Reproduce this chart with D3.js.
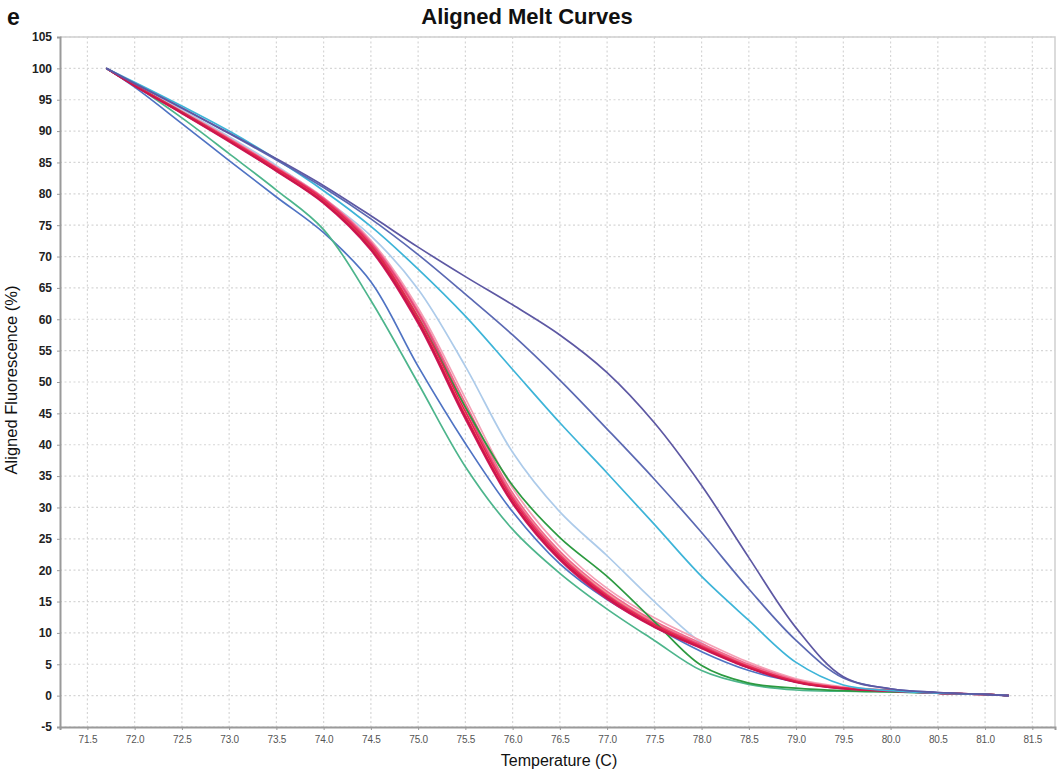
<!DOCTYPE html>
<html>
<head>
<meta charset="utf-8">
<script src="https://cdn.jsdelivr.net/npm/d3@7"></script>
<style>
  html, body { margin: 0; padding: 0; background: #fff; }
  svg { display: block; font-family: Arial, "Liberation Sans", sans-serif; }
</style>
</head>
<body>
<svg id="chart" width="1057" height="773"></svg>
<script>
// Temperatures (°C) at which every curve is sampled
const temps = [71.7, 72.0, 72.5, 73.0, 73.5, 74.0, 74.5, 75.0, 75.5, 76.0, 76.5, 77.0, 77.5, 78.0, 78.5, 79.0, 79.5, 80.0, 80.5, 81.0, 81.25];

// Aligned fluorescence (%) per sample well
const purpleA   = [100, 97.6, 93.7, 89.7, 85.6, 81.3, 76.5, 71.5, 66.8, 62.3, 57.5, 51.5, 43.5, 33.5, 22.0, 10.8, 3.0, 1.1, 0.5, 0.2, 0];
const purpleB   = [100, 97.6, 93.7, 89.6, 85.4, 81.0, 76.0, 70.3, 64.0, 57.5, 50.3, 42.5, 34.5, 26.0, 17.0, 8.8, 2.8, 1.1, 0.5, 0.2, 0];
const cyan      = [100, 97.8, 94.0, 90.0, 85.5, 80.5, 74.8, 68.0, 60.5, 52.0, 43.5, 35.5, 27.3, 19.0, 12.0, 5.3, 1.7, 0.8, 0.4, 0.2, 0];
const paleBlue  = [100, 97.5, 93.4, 89.1, 84.5, 79.3, 73.3, 64.8, 52.5, 38.8, 29.3, 22.3, 15.0, 8.4, 4.5, 2.4, 1.3, 0.8, 0.4, 0.2, 0];
const blue      = [100, 97.0, 91.2, 85.3, 79.5, 73.8, 66.0, 52.5, 40.2, 29.3, 21.0, 15.3, 11.0, 7.0, 4.0, 2.2, 1.2, 0.8, 0.4, 0.2, 0];
const tealGreen = [100, 97.3, 92.1, 86.4, 80.6, 74.3, 63.0, 49.8, 36.5, 26.5, 19.5, 13.8, 8.8, 4.0, 1.8, 0.9, 0.7, 0.6, 0.4, 0.2, 0];
const darkGreen = [100, 97.3, 93.0, 88.5, 83.7, 78.7, 71.5, 60.3, 46.0, 33.5, 25.2, 19.0, 11.8, 4.8, 2.0, 1.2, 0.8, 0.6, 0.4, 0.2, 0];
const red1 = [100, 97.3, 93.0, 88.6, 84.0, 79.0, 71.8, 60.3, 45.3, 31.3, 22.2, 15.9, 11.3, 7.8, 4.6, 2.3, 1.2, 0.8, 0.4, 0.2, 0];
const red2 = [100, 97.2, 92.8, 88.3, 83.6, 78.5, 71.0, 59.3, 44.1, 30.6, 21.6, 15.4, 10.9, 7.5, 4.4, 2.2, 1.1, 0.7, 0.4, 0.2, 0];
const red3 = [100, 97.4, 93.1, 88.8, 84.2, 79.3, 72.3, 61.3, 46.6, 32.3, 23.0, 16.6, 11.9, 8.3, 5.0, 2.5, 1.3, 0.8, 0.4, 0.2, 0];
const red4 = [100, 97.3, 92.9, 88.5, 83.8, 78.7, 71.4, 59.8, 44.7, 30.9, 21.9, 15.7, 11.1, 7.7, 4.5, 2.2, 1.2, 0.8, 0.4, 0.2, 0];
const red5 = [100, 97.4, 93.2, 88.9, 84.3, 79.4, 72.6, 61.8, 47.4, 33.1, 23.7, 17.1, 12.4, 8.7, 5.3, 2.7, 1.4, 0.9, 0.4, 0.2, 0];
const red6 = [100, 97.3, 93.0, 88.7, 84.1, 79.1, 72.0, 60.8, 46.1, 31.9, 22.7, 16.3, 11.7, 8.1, 4.8, 2.4, 1.2, 0.8, 0.4, 0.2, 0];
const red7 = [100, 97.3, 93.1, 88.7, 84.1, 79.2, 72.1, 61.0, 45.9, 31.7, 22.5, 16.1, 11.5, 8.0, 4.7, 2.3, 1.2, 0.8, 0.4, 0.2, 0];
const red8 = [100, 97.2, 92.9, 88.4, 83.7, 78.6, 71.2, 59.6, 44.4, 30.8, 21.8, 15.6, 11.0, 7.6, 4.4, 2.1, 1.1, 0.7, 0.4, 0.2, 0];

// Tick values
const xTicks = [71.5, 72.0, 72.5, 73.0, 73.5, 74.0, 74.5, 75.0, 75.5, 76.0, 76.5, 77.0, 77.5, 78.0, 78.5, 79.0, 79.5, 80.0, 80.5, 81.0, 81.5];
const yTicks = [-5, 0, 5, 10, 15, 20, 25, 30, 35, 40, 45, 50, 55, 60, 65, 70, 75, 80, 85, 90, 95, 100, 105];

// Curves in drawing order (back to front) with their stroke colours
const curves = [
  { values: paleBlue,  color: "#adcbea" },
  { values: blue,      color: "#4f73c3" },
  { values: tealGreen, color: "#4db58c" },
  { values: red5, color: "#f4a0b5" },
  { values: red6, color: "#f3b08e" },
  { values: red3, color: "#f06a8e" },
  { values: red7, color: "#e8457a" },
  { values: darkGreen, color: "#2c9a40" },
  { values: red1, color: "#e3234f" },
  { values: red2, color: "#d41c5c" },
  { values: red4, color: "#ea2a45" },
  { values: red8, color: "#c8154e" },
  { values: cyan,      color: "#3db4d8" },
  { values: purpleB,   color: "#5b69b3" },
  { values: purpleA,   color: "#5d58a3" }
];

const svg = d3.select("#chart");
const plotLeft = 60, plotRight = 1055, plotTop = 37, plotBottom = 727;

const x = d3.scaleLinear().domain([71.21, 81.74]).range([plotLeft, plotRight]);
const y = d3.scaleLinear().domain([-5, 105]).range([plotBottom, plotTop]);

// Dotted grid
const grid = svg.append("g");
grid.selectAll("line.v").data(xTicks).join("line").attr("class", "v")
  .attr("x1", d => x(d)).attr("x2", d => x(d))
  .attr("y1", plotTop).attr("y2", plotBottom)
  .attr("stroke", "#d6d6d6").attr("stroke-width", 1.2)
  .attr("stroke-dasharray", "2,2.5");
grid.selectAll("line.h").data(yTicks).join("line").attr("class", "h")
  .attr("x1", plotLeft).attr("x2", plotRight)
  .attr("y1", d => y(d)).attr("y2", d => y(d))
  .attr("stroke", "#d6d6d6").attr("stroke-width", 1.2)
  .attr("stroke-dasharray", "2,2.5");

// Plot frame (top / right)
svg.append("path")
  .attr("d", `M${plotLeft},${plotTop}H${plotRight}V${plotBottom}`)
  .attr("fill", "none").attr("stroke", "#cfcfcf").attr("stroke-width", 1.5);

// Curves
const line = d3.line()
  .x((d, i) => x(temps[i]))
  .y(d => y(d))
  .curve(d3.curveCatmullRom.alpha(0.5));

svg.append("g").selectAll("path").data(curves).join("path")
  .attr("d", d => line(d.values))
  .attr("fill", "none")
  .attr("stroke", d => d.color)
  .attr("stroke-width", 1.7)
  .attr("stroke-linejoin", "round");

// Axes
const xAxis = d3.axisBottom(x).tickValues(xTicks).tickFormat(d3.format(".1f")).tickSize(3).tickPadding(6);
const gx = svg.append("g").attr("transform", `translate(0,${plotBottom})`).call(xAxis);
gx.select(".domain").attr("stroke", "#9a9a9a").attr("stroke-width", 2);
gx.selectAll(".tick line").attr("stroke", "#9a9a9a");
gx.selectAll(".tick text").attr("fill", "#555").attr("font-size", 10)
  .attr("font-family", "Arial, 'Liberation Sans', sans-serif").attr("letter-spacing", "-0.2px");

const yAxis = d3.axisLeft(y).tickValues(yTicks).tickFormat(d => String(d)).tickSize(3).tickPadding(5);
const gy = svg.append("g").attr("transform", `translate(${plotLeft},0)`).call(yAxis);
gy.select(".domain").attr("stroke", "#9a9a9a").attr("stroke-width", 2);
gy.selectAll(".tick line").attr("stroke", "#9a9a9a");
gy.selectAll(".tick text").attr("fill", "#222").attr("font-size", 12).attr("font-weight", "bold")
  .attr("font-family", "Arial, 'Liberation Sans', sans-serif");

// Titles
svg.append("text").attr("x", 527).attr("y", 24).attr("text-anchor", "middle")
  .attr("font-size", 22).attr("font-weight", "bold").attr("fill", "#111")
  .text("Aligned Melt Curves");

svg.append("text").attr("x", 7).attr("y", 25)
  .attr("font-size", 23).attr("font-weight", "bold").attr("fill", "#111")
  .text("e");

svg.append("text").attr("x", 559).attr("y", 766).attr("text-anchor", "middle")
  .attr("font-size", 16).attr("fill", "#111")
  .text("Temperature (C)");

svg.append("text")
  .attr("transform", "translate(17,380) rotate(-90)")
  .attr("text-anchor", "middle")
  .attr("font-size", 16.5).attr("fill", "#111")
  .text("Aligned Fluorescence (%)");
</script>
</body>
</html>
